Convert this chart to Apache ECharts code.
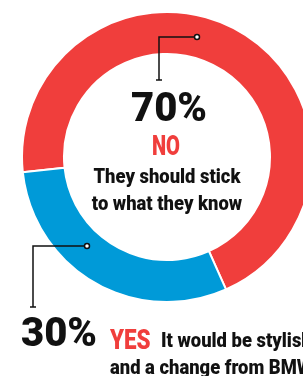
<!DOCTYPE html>
<html>
<head>
<meta charset="utf-8">
<script src="https://cdn.jsdelivr.net/npm/echarts@6/dist/echarts.min.js"></script>
<style>
html,body{margin:0;padding:0;background:#fff;}
#chart{width:303px;height:376px;}
</style>
</head>
<body>
<div id="chart"></div>
<script>
var answers = ['NO', 'YES'];
var shares = [70, 30];
var colours = ['#f03e3c', '#009ad8'];
var blurbs = ['They should stick\nto what they know', 'It would be stylish\nand a change from BMW'];

var fam = "Roboto, 'DejaVu Sans', sans-serif";

// condensed text: Roboto squeezed horizontally
function txt(x, y, s, fill, font, align, va, sx, extra) {
  var st = { text: s, fill: fill, font: font, textAlign: align, textVerticalAlign: va };
  if (extra) for (var k in extra) st[k] = extra[k];
  return { type: 'text', x: x, y: y, z: 100, scaleX: sx, style: st };
}

window.onload = function () {
  var chart = echarts.init(document.getElementById('chart'));
  var line = { stroke: '#111', lineWidth: 1.5, fill: null };
  var dot = { fill: '#fff', stroke: '#111', lineWidth: 1.5 };

  chart.setOption({
    backgroundColor: '#fff',
    animation: false,
    series: [{
      type: 'pie',
      center: [167, 157],
      radius: [103, 145],
      startAngle: 186,
      clockwise: true,
      silent: true,
      z: 1,
      label: { show: false },
      labelLine: { show: false },
      itemStyle: { borderColor: '#fff', borderWidth: 2 },
      data: answers.map(function (a, i) {
        return { name: a, value: shares[i], itemStyle: { color: colours[i] } };
      })
    }],
    graphic: { elements: [
      // top leader (NO)
      { type: 'polyline', z: 100, shape: { points: [[195, 37], [159, 37], [159, 80]] }, style: line },
      { type: 'line', z: 100, shape: { x1: 156, y1: 80, x2: 162, y2: 80 }, style: line },
      { type: 'circle', z: 101, shape: { cx: 197, cy: 37, r: 2.5 }, style: dot },
      // bottom leader (YES)
      { type: 'polyline', z: 100, shape: { points: [[85, 246], [33, 246], [33, 307]] }, style: line },
      { type: 'line', z: 100, shape: { x1: 30, y1: 307, x2: 36, y2: 307 }, style: line },
      { type: 'circle', z: 101, shape: { cx: 87, cy: 246, r: 2.5 }, style: dot },

      txt(169, 131, shares[0] + '%', '#111', '900 40px ' + fam, 'center', 'bottom', 1),
      txt(166, 162, answers[0], colours[0], '900 28px ' + fam, 'center', 'bottom', 0.72),
      txt(167, 164, blurbs[0], '#111', '900 20px ' + fam, 'center', 'top', 0.92, { lineHeight: 27 }),

      txt(21, 356, shares[1] + '%', '#111', '900 40px ' + fam, 'left', 'bottom', 1),
      txt(110, 356, answers[1], colours[0], '900 28px ' + fam, 'left', 'bottom', 0.8),
      txt(161, 352, blurbs[1].split('\n')[0], '#111', '900 20px ' + fam, 'left', 'bottom', 0.92),
      txt(110, 379, blurbs[1].split('\n')[1], '#111', '900 20px ' + fam, 'left', 'bottom', 0.92)
    ] }
  });
};
</script>
</body>
</html>
